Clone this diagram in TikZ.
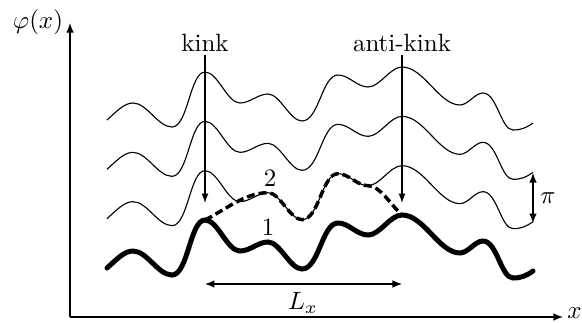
\documentclass[tikz,border=0pt]{standalone}
\usetikzlibrary{arrows.meta}
\tikzset{
  wave/.style={line width=0.45pt},
  thickwave/.style={line width=2pt, line cap=round},
  dashwave/.style={line width=1.4pt, dash pattern=on 3.2pt off 1.6pt},
  axisline/.style={line width=0.5pt,-{Latex[length=3.8pt,width=3pt]}},
  arr/.style={line width=0.45pt,-{Latex[length=3.8pt,width=2.8pt]}},
  dblarr/.style={line width=0.45pt,{Latex[length=3.8pt,width=3pt]}-{Latex[length=3.8pt,width=3pt]}},
  lbl/.style={inner sep=1pt}
}
\begin{document}
\begin{tikzpicture}[x=0.4pt,y=0.4pt]
\useasboundingbox (0,0) rectangle (582,322);
% axes
\coordinate (O) at (70,5);
\coordinate (ytip) at (70,299);
\coordinate (xtip) at (563,5);
\draw[axisline] (O) -- (ytip);
\draw[axisline] (O) -- (xtip);
\node[lbl,anchor=east] (phi) at (66,300) {$\varphi(x)$};
\node[inner sep=0pt,anchor=west] (xl) at (567,8.5) {$x$};
% waves
\foreach \k/\s in {0/wave,1/wave,2/wave,3/thickwave}{
  \draw[\s, yshift=-\k*19.733pt]
    (107,202) .. controls +(9,8) and +(-9,0) .. (133,219)
    .. controls +(14,0) and +(-14,0) .. (172,195)
    .. controls +(16,0) and +(-15,0) .. (205,250)
    .. controls +(13,0) and +(-13,0) .. (240,219)
    .. controls +(10,0) and +(-10,0) .. (268,228)
    .. controls +(12,0) and +(-12,0) .. (302,201)
    .. controls +(17,0) and +(-16,0) .. (338,247)
    .. controls +(11,0) and +(-11,0) .. (368,235)
    .. controls +(12,0) and +(-12,0) .. (402,255)
    .. controls +(22,0) and +(-21,0) .. (460,217)
    .. controls +(8,0) and +(-8,0) .. (483,229)
    .. controls +(14,0) and +(-12,0) .. (513,192)
    .. controls +(8,0) and +(-7,-5) .. (533,199);
}
% dashed curve 2
\draw[dashwave] (205,102) .. controls (225,112) and (245,129.3) .. (268,129.3)
  .. controls +(12,0) and +(-12,0) .. (302,102.3)
  .. controls +(17,0) and +(-16,0) .. (338,148.3)
  .. controls +(11,0) and +(-11,0) .. (368,136.3)
  .. controls (380,136.3) and (390,118) .. (402,107);
\node[lbl] (two) at (270,144) {2};
\node[lbl] (one) at (268,95) {1};
% kink arrows
\node[lbl] (kink) at (205,279) {kink};
\node[lbl] (akink) at (402,279) {anti-kink};
\coordinate (kinkend) at (205,119);
\coordinate (akinkend) at (402,119);
\draw[arr] (kink) -- (kinkend);
\draw[arr] (akink) -- (akinkend);
% L_x
\coordinate (la) at (205,38);
\coordinate (lb) at (402,38);
\draw[dblarr] (la) -- (lb);
\node[lbl] (lx) at (303,19) {$L_x$};
% pi
\coordinate (pa) at (533,149);
\coordinate (pb) at (533,99);
\draw[dblarr] (pa) -- (pb);
\node[lbl] (pi) at (548,124) {$\pi$};
\end{tikzpicture}
\end{document}
